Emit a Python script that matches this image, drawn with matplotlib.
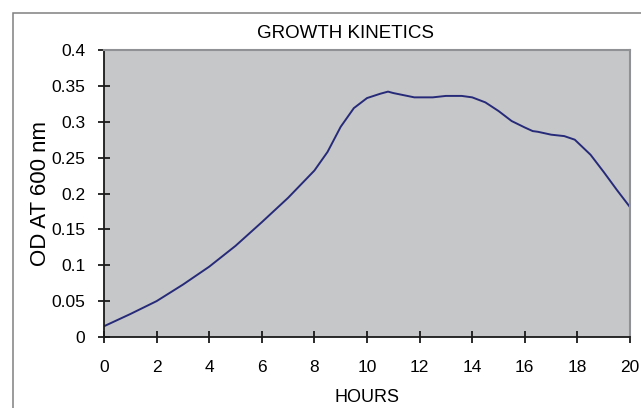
import matplotlib
matplotlib.use("Agg")
import matplotlib.pyplot as plt
from matplotlib.patches import Rectangle

hours = [0, 1, 2, 3, 4, 5, 6, 7, 8, 8.5, 9, 9.5, 10, 10.5, 10.8, 11, 11.8,
         12.5, 13, 13.6, 14, 14.5, 15, 15.5, 16, 16.3, 16.5, 17, 17.5, 17.9,
         18.5, 19, 19.5, 20]
od = [0.015, 0.032, 0.05, 0.073, 0.098, 0.127, 0.16, 0.194, 0.232, 0.258,
      0.293, 0.319, 0.333, 0.339, 0.342, 0.34, 0.334, 0.334, 0.336, 0.336,
      0.334, 0.327, 0.315, 0.301, 0.292, 0.287, 0.286, 0.282, 0.28, 0.275,
      0.254, 0.23, 0.205, 0.181]

xticks = list(range(0, 21, 2))
yticks = [0, 0.05, 0.1, 0.15, 0.2, 0.25, 0.3, 0.35, 0.4]
ytick_labels = ["0", "0.05", "0.1", "0.15", "0.2", "0.25", "0.3", "0.35", "0.4"]

plt.rcParams['font.family'] = ['Liberation Sans', 'DejaVu Sans']

fig = plt.figure(figsize=(6.41, 4.08), dpi=100)
# outer chart frame
fig.patches.append(Rectangle((13 / 641, -0.05), 1.2, 1 - 13 / 408 + 0.05,
                             transform=fig.transFigure, fill=False,
                             edgecolor='#808080', linewidth=1.1))

ax = fig.add_axes([104 / 641, 71 / 408, 526 / 641, 287 / 408])
ax.set_facecolor('#c6c7c9')
ax.plot(hours, od, color='#262a78', linewidth=1.4)

ax.set_xlim(0, 20)
ax.set_ylim(0, 0.4)
ax.set_xticks(xticks)
ax.set_yticks(yticks)
ax.set_yticklabels(ytick_labels)

for s in ['top', 'right']:
    ax.spines[s].set_color('#8f9194')
    ax.spines[s].set_linewidth(1.5)
for s in ['left', 'bottom']:
    ax.spines[s].set_color('#1a1a1a')
    ax.spines[s].set_linewidth(1.3)

ax.tick_params(direction='inout', length=9, width=1.3, color='#1a1a1a',
               labelsize=12.5)
ax.tick_params(axis='x', pad=12)
ax.tick_params(axis='y', pad=9)

ax.set_title("GROWTH KINETICS", fontsize=13.5, x=0.46, pad=9)
ax.set_xlabel("HOURS", fontsize=13, labelpad=10)
ax.set_ylabel("OD AT 600 nm", fontsize=16, labelpad=0)

fig.savefig("out.png", dpi=100)
